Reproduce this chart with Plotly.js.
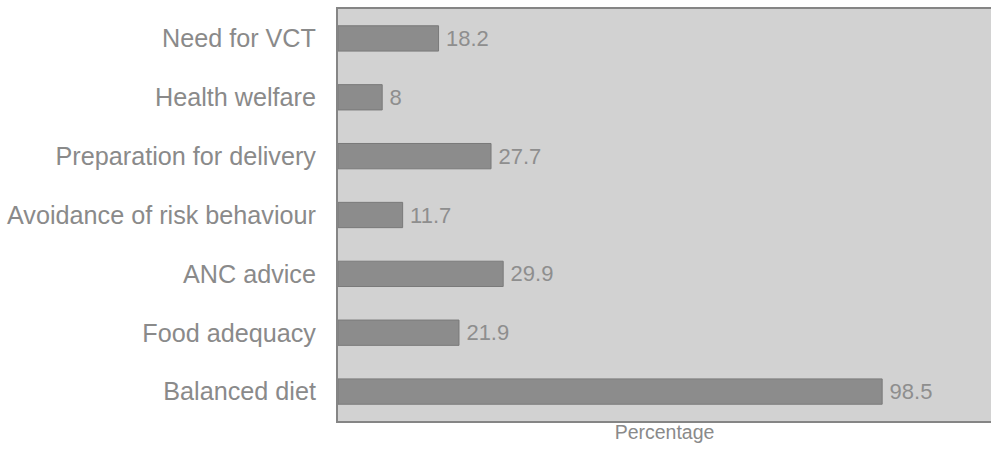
<!DOCTYPE html>
<html><head><meta charset="utf-8">
<script src="https://cdn.plot.ly/plotly-3.0.1.min.js"></script>
<style>html,body{margin:0;padding:0;background:#fff;}</style>
</head><body>
<div id="chart" style="width:991px;height:452px;"></div>
<script>
const categories = ["Balanced diet","Food adequacy","ANC advice","Avoidance of risk behaviour","Preparation for delivery","Health welfare","Need for VCT"];
const values = [98.5, 21.9, 29.9, 11.7, 27.7, 8, 18.2];
const valueLabels = ["98.5","21.9","29.9","11.7","27.7","8","18.2"];

Plotly.newPlot('chart', [{
  type: 'bar',
  orientation: 'h',
  y: categories,
  x: values,
  text: valueLabels,
  texttemplate: '\u2009%{text}',
  textposition: 'outside',
  cliponaxis: false,
  textfont: {family: 'Liberation Sans, Arial, sans-serif', size: 22, color: '#8e8e8e'},
  width: 0.43,
  marker: {color: '#8c8c8c', line: {color: '#7a7a7a', width: 1}},
  hoverinfo: 'none'
}], {
  width: 991, height: 452,
  margin: {l: 338, r: 0, t: 9, b: 31},
  paper_bgcolor: '#ffffff',
  plot_bgcolor: '#d2d2d2',
  showlegend: false,
  font: {family: 'Liberation Sans, Arial, sans-serif', color: '#8a8a8a'},
  xaxis: {
    range: [0, 118.2],
    showticklabels: false, ticks: '', showgrid: false, zeroline: false,
    showline: true, mirror: true, linecolor: '#858585', linewidth: 2,
    title: {text: 'Percentage', font: {size: 19.5, color: '#8a8a8a'}, standoff: 3}
  },
  yaxis: {
    type: 'category',
    categoryorder: 'array', categoryarray: categories,
    range: [-0.5, 6.5],
    showgrid: false, zeroline: false, ticks: '',
    showline: true, mirror: true, linecolor: '#858585', linewidth: 2,
    tickfont: {size: 25.2, color: '#8a8a8a'},
    ticklabelstandoff: 15
  }
}, {displayModeBar: false, staticPlot: true});
</script>
</body></html>
